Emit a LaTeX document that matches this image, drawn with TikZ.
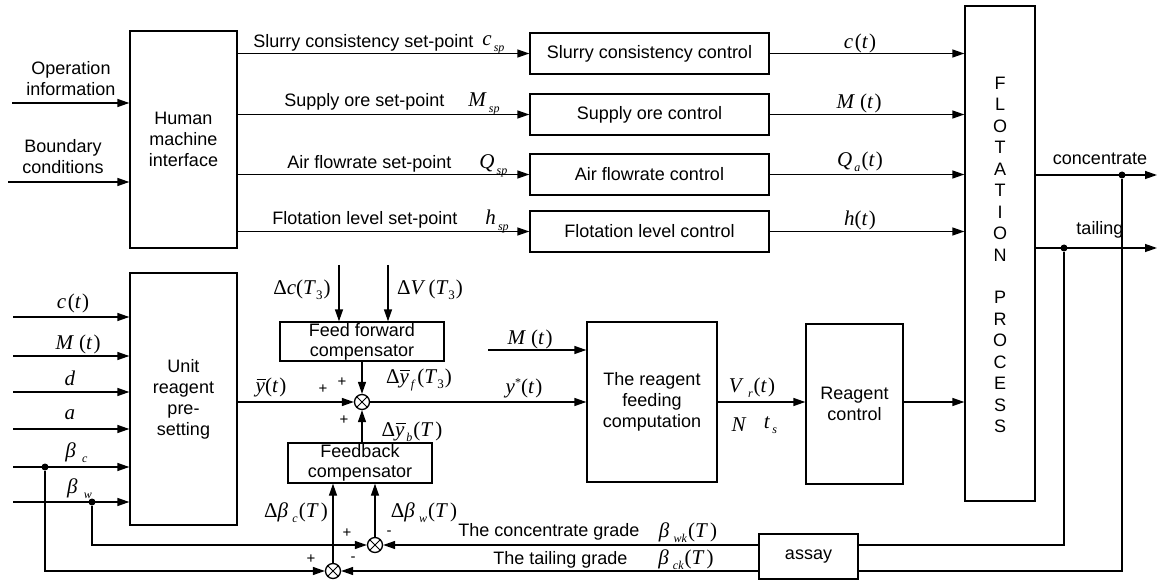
\documentclass[tikz,border=0pt]{standalone}
\usepackage{fontspec}
\setmainfont{Liberation Sans}
\newfontfamily\tms{Liberation Serif}
\usetikzlibrary{arrows.meta}

% italic variable, small italic / upright subscripts
\newcommand\vi[1]{\textit{#1}}
\newcommand\sbi[1]{\kern0.1em\raisebox{-0.55ex}{\fontsize{6}{6}\selectfont\itshape #1}\kern0.05em}
\newcommand\sbu[1]{\raisebox{-0.55ex}{\fontsize{6.5}{6.5}\selectfont #1}}
% italic y with a bar over it
\newcommand\ybar{{\setbox0=\hbox{\itshape y}\rlap{\hbox to\wd0{\hss\kern0.1em\rule[0.58em]{0.46em}{0.05em}\hss}}\box0}}

\tikzset{
  ln/.style={line width=0.65pt},
  arr/.style={ln, -{Triangle[length=6pt,width=4pt]}},
  blk/.style={draw, ln, inner sep=0pt, align=center, font=\fontsize{9}{10.5}\selectfont},
  txt/.style={inner sep=0pt, align=center, font=\fontsize{9}{10.5}\selectfont},
  mth/.style={inner sep=0pt, font=\tms\fontsize{10.5}{12}\selectfont},
  sgn/.style={inner sep=0pt, font=\fontsize{7.5}{8}\selectfont},
  sumn/.style={circle, draw, ln, minimum size=7.5pt, inner sep=0pt,
    path picture={\draw[line width=0.5pt]
      (path picture bounding box.north west) -- (path picture bounding box.south east)
      (path picture bounding box.north east) -- (path picture bounding box.south west);}},
  dot/.style={circle, fill, inner sep=0pt, minimum size=3.5pt},
}

\begin{document}
\begin{tikzpicture}[x=0.5pt,y=-0.5pt]
\useasboundingbox (0,0) rectangle (1158,583);

% ---- blocks ----
\node[blk, minimum width=53.5pt, minimum height=108.5pt] (hmi) at (183.5,139.5) {Human\\machine\\interface};
\node[blk, minimum width=119.5pt, minimum height=20.5pt] (c1) at (649.5,53.5) {Slurry consistency control};
\node[blk, minimum width=119.5pt, minimum height=20.5pt] (c2) at (649.5,114.5) {Supply ore control};
\node[blk, minimum width=119.5pt, minimum height=20.5pt] (c3) at (649.5,174.5) {Air flowrate control};
\node[blk, minimum width=119.5pt, minimum height=20.5pt] (c4) at (649.5,231.5) {Flotation level control};
\node[blk, minimum width=35pt, minimum height=247.5pt] (fp) at (1000,253.5) {};
\node[blk, minimum width=53.5pt, minimum height=126pt] (unit) at (183.5,399) {Unit\\reagent\\pre-\\setting};
\node[blk, minimum width=82pt, minimum height=19.5pt, font=\fontsize{9}{10}\selectfont] (ff) at (362,341.5) {Feed forward\\compensator};
\node[blk, minimum width=72pt, minimum height=20pt, font=\fontsize{9}{10}\selectfont] (fb) at (360,463) {Feedback\\compensator};
\node[blk, minimum width=65pt, minimum height=80pt] (rf) at (652,402) {The reagent\\feeding\\computation};
\node[blk, minimum width=48.5pt, minimum height=80pt] (rc) at (854.5,404) {Reagent\\control};
\node[blk, minimum width=49.5pt, minimum height=22.5pt] (assay) at (808.5,556.5) {assay};

% vertical lettering of the process block
\foreach \c [count=\i from 0] in {F,L,O,T,A,T,I,O,N}
  \node[txt, anchor=base] (fl\i) at (1000,{89.5+21.5*\i}) {\c};
\foreach \c [count=\i from 0] in {P,R,O,C,E,S,S}
  \node[txt, anchor=base] (pr\i) at (1000,{303.5+21.5*\i}) {\c};

% ---- summing junctions and branch points ----
\node[sumn] (s1) at (362,402) {};
\node[sumn] (s2) at (375,545) {};
\node[sumn] (s3) at (333,571) {};
\node[dot] (dc) at (45,467) {};
\node[dot] (dw) at (92,502) {};
\node[dot] (dcon) at (1122,175) {};
\node[dot] (dtai) at (1064,248) {};

% ---- free line ends ----
\coordinate (oi) at (12,103);
\coordinate (bc) at (8,182);
\coordinate (ce) at (1157,175);
\coordinate (te) at (1157,248);
\coordinate (dc3) at (339,265);
\coordinate (dv3) at (388,265);
\coordinate (mt) at (488,350);
\foreach \y [count=\i] in {317,356,392,429,467,502}
  \coordinate (in\i) at (13,\y);

% ---- upper part: set-points ----
\draw[arr] (oi) -- (oi -| hmi.west);
\draw[arr] (bc) -- (bc -| hmi.west);
\foreach \k in {c1,c2,c3,c4}{
  \draw[arr] (hmi.east |- \k.west) -- (\k.west);
  \draw[arr] (\k.east) -- (\k.east -| fp.west);
}
\draw[arr] (fp.east |- ce) -- (ce);
\draw[arr] (fp.east |- te) -- (te);

% ---- lower part: reagent loop ----
\foreach \i in {1,...,6}
  \draw[arr] (in\i) -- (in\i -| unit.west);
\draw[arr] (unit.east |- s1) -- (s1.west);
\draw[arr] (dc3) -- (dc3 |- ff.north);
\draw[arr] (dv3) -- (dv3 |- ff.north);
\draw[arr] (ff.south -| s1) -- (s1.north);
\draw[arr] (fb.north -| s1) -- (s1.south);
\draw[arr] (s1.east) -- (s1 -| rf.west);
\draw[arr] (mt) -- (mt -| rf.west);
\draw[arr] (rf.east) -- (rf.east -| rc.west);
\draw[arr] (rc.east |- rf.east) -- (rf.east -| fp.west);

% ---- grade feedback ----
\draw[ln] (dtai) |- (assay.east |- s2);
\draw[ln] (dcon) |- (assay.east |- s3);
\draw[arr] (assay.west |- s2) -- (s2.east);
\draw[arr] (assay.west |- s3) -- (s3.east);
\draw[arr] (dw) |- (s2.west);
\draw[arr] (dc) |- (s3.west);
\draw[arr] (s2.north) -- (s2.north |- fb.south);
\draw[arr] (s3.north) -- (s3.north |- fb.south);

% ---- labels ----
\node[txt] (lop) at (71,79) {Operation\\information};
\node[txt] (lbd) at (63,157) {Boundary\\conditions};
\node[txt, anchor=base west] (t1) at (253,47.5) {Slurry consistency set-point};
\node[txt, anchor=base west] (t2) at (284,107) {Supply ore set-point};
\node[txt, anchor=base west] (t3) at (287,169) {Air flowrate set-point};
\node[txt, anchor=base west] (t4) at (272,225) {Flotation level set-point};
\node[mth, anchor=base west] (csp) at (482,46) {\vi{c}\sbi{sp}};
\node[mth, anchor=base west] (msp) at (468,107) {\vi{M}\sbi{sp}};
\node[mth, anchor=base west] (qsp) at (479,169) {\vi{Q}\sbi{sp}};
\node[mth, anchor=base west] (hsp) at (485,225) {\vi{h}\sbi{sp}};
\node[mth] (oc) at (860,43) {\vi{c}\kern0.08em(\vi{t}\kern0.05em)};
\node[mth] (om) at (859,103) {\vi{M}\kern0.25em(\vi{t}\kern0.05em)};
\node[mth] (oq) at (860,162) {\vi{Q}\sbi{a}(\vi{t}\kern0.05em)};
\node[mth] (oh) at (860,220) {\vi{h}(\vi{t}\kern0.05em)};
\node[txt] (lcon) at (1100,159) {concentrate};
\node[txt] (ltai) at (1100,230) {tailing};

\node[mth] (uc) at (73,303) {\vi{c}\kern0.08em(\vi{t}\kern0.05em)};
\node[mth] (um) at (78,344) {\vi{M}\kern0.25em(\vi{t}\kern0.05em)};
\node[mth] (ud) at (70,378) {\vi{d}};
\node[mth] (ua) at (70,415) {\vi{a}};
\node[mth] (ubc) at (77,453) {\vi{β}\kern0.2em\sbi{c}};
\node[mth] (ubw) at (80,489) {\vi{β}\kern0.2em\sbi{w}};

\node[mth] (ldc) at (302,290) {Δ\vi{c}(\vi{T}\sbu{3}\kern0.05em)};
\node[mth] (ldv) at (430,290) {Δ\vi{V}\kern0.15em(\vi{T}\sbu{3}\kern0.05em)};
\node[mth] (lyb) at (271,387) {\ybar(\vi{t}\kern0.05em)};
\node[mth] (lyf) at (419,380) {Δ\ybar\sbi{f}\kern0.1em(\vi{T}\sbu{3}\kern0.05em)};
\node[mth] (lys) at (524,388) {\vi{y}\raisebox{0.7ex}{\fontsize{6}{6}\selectfont *}(\vi{t}\kern0.05em)};
\node[mth] (lmt) at (530,339) {\vi{M}\kern0.25em(\vi{t}\kern0.05em)};
\node[mth] (lyd) at (412,432) {Δ\ybar\sbi{b}(\vi{T}\kern0.1em)};
\node[mth] (lbc) at (296,513) {Δ\vi{β}\kern0.1em\sbi{c}(\vi{T}\kern0.1em)};
\node[mth] (lbw) at (424,513) {Δ\vi{β}\kern0.1em\sbi{w}(\vi{T}\kern0.1em)};
\node[mth] (lvr) at (752,388) {\vi{V}\kern0.1em\sbi{r}(\vi{t}\kern0.05em)};
\node[mth] (lnn) at (739,425) {\vi{N}};
\node[mth] (lts) at (771,425) {\vi{t}\sbi{s}};

\node[sgn] (p1) at (323,389) {+};
\node[sgn] (p2) at (342,382) {+};
\node[sgn] (p3) at (344,420) {+};
\node[sgn] (p4) at (347,533) {+};
\node[sgn] (m4) at (389,533) {-};
\node[sgn] (p5) at (311,559) {+};
\node[sgn] (m5) at (353,559) {-};

\node[txt, anchor=west] (lcg) at (458,532) {The concentrate grade};
\node[mth] (lbwk) at (688,533) {\vi{β}\kern0.1em\sbi{wk}(\vi{T}\kern0.1em)};
\node[txt, anchor=west] (ltg) at (493,560) {The tailing grade};
\node[mth] (lbck) at (686,560) {\vi{β}\kern0.1em\sbi{ck}(\vi{T}\kern0.1em)};
\end{tikzpicture}
\end{document}
